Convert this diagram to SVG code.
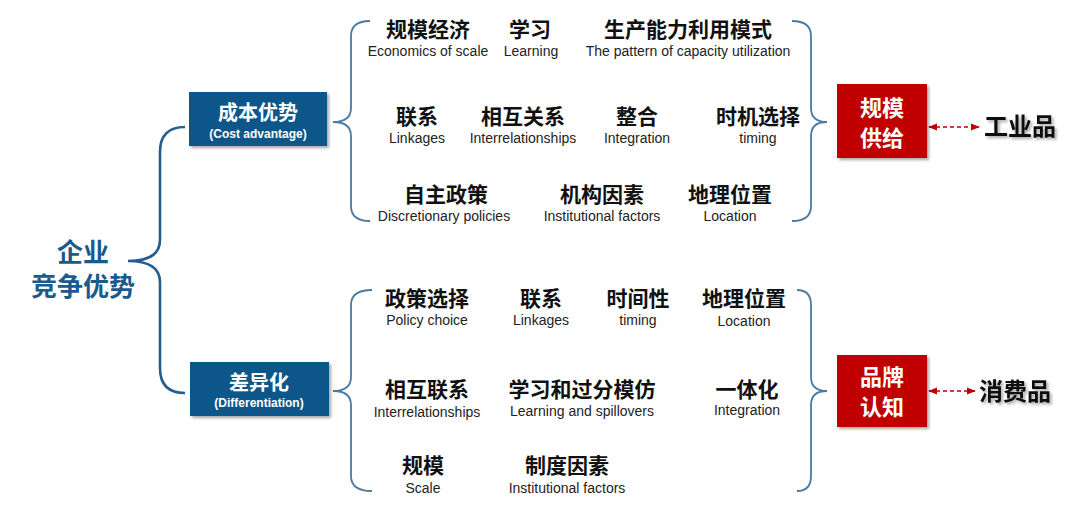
<svg xmlns="http://www.w3.org/2000/svg" width="1080" height="514" viewBox="0 0 1080 514">
<style>
.cn{font-family:"Noto Sans CJK SC","Liberation Sans",sans-serif;font-weight:700;font-size:21px;fill:#111;text-anchor:middle}
.en{font-family:"Liberation Sans",Arial,sans-serif;font-size:14px;fill:#222;text-anchor:middle}
.brace{fill:none;stroke:#4a79a3;stroke-width:1.8}
.bigbrace{fill:none;stroke:#245d8e;stroke-width:2.6}
.bluebox{fill:#0d5689}
.redbox{fill:#c00000}
.wt{font-family:"Noto Sans CJK SC","Liberation Sans",sans-serif;font-weight:700;fill:#fff;text-anchor:middle}
.lead{font-family:"Noto Sans CJK SC","Liberation Sans",sans-serif;font-weight:700;font-size:24px;fill:#111;text-anchor:middle}
.dash{stroke:#c00000;stroke-width:1.5;stroke-dasharray:4 3;fill:none}
</style>
<defs>
<filter id="sh" x="-20%" y="-20%" width="140%" height="140%">
<feDropShadow dx="2" dy="2" stdDeviation="1.5" flood-color="#000" flood-opacity="0.35"/>
</filter>
<marker id="ah" viewBox="0 0 10 10" refX="9" refY="5" markerWidth="6" markerHeight="6" orient="auto-start-reverse">
<path d="M0,1 L10,5 L0,9 z" fill="#c00000"/>
</marker>
</defs>

<g id="root">
<text font-family="Noto Sans CJK SC, sans-serif" font-weight="700" font-size="26" fill="#1a5a8c" text-anchor="middle"><tspan x="83" y="262">企业</tspan><tspan x="83" y="296">竞争优势</tspan></text>
</g>

<g id="connectors">
<path class="bigbrace" d="M185,127 Q160,127 160,152 L160,240 Q160,261 128,261 Q160,261 160,282 L160,368 Q160,393 185,393"/>
<path class="brace" d="M370,21 Q351,21 351,36 L351,108 Q351,122 333,122 Q351,122 351,136 L351,206 Q351,221 370,221"/>
<path class="brace" d="M792,21 Q811,21 811,36 L811,108 Q811,122 827,122 Q811,122 811,136 L811,206 Q811,221 792,221"/>
<path class="brace" d="M372,290 Q351,290 351,305 L351,377 Q351,391 333,391 Q351,391 351,405 L351,476 Q351,491 372,491"/>
<path class="brace" d="M797,290 Q811,290 811,305 L811,377 Q811,391 827,391 Q811,391 811,405 L811,476 Q811,491 797,491"/>
<line class="dash" x1="929" y1="127" x2="979" y2="127" marker-start="url(#ah)" marker-end="url(#ah)"/>
<line class="dash" x1="929" y1="391" x2="975" y2="391" marker-start="url(#ah)" marker-end="url(#ah)"/>
</g>

<g id="cost">
<rect class="bluebox" x="189" y="92" width="138" height="54" filter="url(#sh)"/>
<text class="wt" x="258" y="120" font-size="20">成本优势</text>
<text x="258" y="138" font-family="Liberation Sans, sans-serif" font-weight="700" font-size="12" fill="#fff" text-anchor="middle">(Cost advantage)</text>
</g>

<g id="diff">
<rect class="bluebox" x="190" y="362" width="139" height="54" filter="url(#sh)"/>
<text class="wt" x="259" y="390" font-size="20">差异化</text>
<text x="259" y="407" font-family="Liberation Sans, sans-serif" font-weight="700" font-size="12" fill="#fff" text-anchor="middle">(Differentiation)</text>
</g>

<g id="cost-items">
<g id="c1"><text class="cn" x="428" y="37">规模经济</text><text class="en" x="428" y="56">Economics of scale</text></g>
<g id="c2"><text class="cn" x="530" y="37">学习</text><text class="en" x="531" y="56">Learning</text></g>
<g id="c3"><text class="cn" x="688" y="37">生产能力利用模式</text><text class="en" x="688" y="56">The pattern of capacity utilization</text></g>
<g id="c4"><text class="cn" x="417" y="124">联系</text><text class="en" x="417" y="143">Linkages</text></g>
<g id="c5"><text class="cn" x="523" y="124">相互关系</text><text class="en" x="523" y="143">Interrelationships</text></g>
<g id="c6"><text class="cn" x="637" y="124">整合</text><text class="en" x="637" y="143">Integration</text></g>
<g id="c7"><text class="cn" x="758" y="124">时机选择</text><text class="en" x="758" y="143">timing</text></g>
<g id="c8"><text class="cn" x="446" y="202">自主政策</text><text class="en" x="444" y="221">Discretionary policies</text></g>
<g id="c9"><text class="cn" x="602" y="202">机构因素</text><text class="en" x="602" y="221">Institutional factors</text></g>
<g id="c10"><text class="cn" x="730" y="202">地理位置</text><text class="en" x="730" y="221">Location</text></g>
</g>

<g id="diff-items">
<g id="d1"><text class="cn" x="427" y="306">政策选择</text><text class="en" x="427" y="325">Policy choice</text></g>
<g id="d2"><text class="cn" x="541" y="306">联系</text><text class="en" x="541" y="325">Linkages</text></g>
<g id="d3"><text class="cn" x="638" y="306">时间性</text><text class="en" x="638" y="325">timing</text></g>
<g id="d4"><text class="cn" x="744" y="306">地理位置</text><text class="en" x="744" y="326">Location</text></g>
<g id="d5"><text class="cn" x="427" y="397">相互联系</text><text class="en" x="427" y="417">Interrelationships</text></g>
<g id="d6"><text class="cn" x="582" y="397">学习和过分模仿</text><text class="en" x="582" y="416">Learning and spillovers</text></g>
<g id="d7"><text class="cn" x="747" y="397">一体化</text><text class="en" x="747" y="415">Integration</text></g>
<g id="d8"><text class="cn" x="423" y="473">规模</text><text class="en" x="423" y="493">Scale</text></g>
<g id="d9"><text class="cn" x="567" y="473">制度因素</text><text class="en" x="567" y="493">Institutional factors</text></g>
</g>

<g id="scale-supply">
<rect class="redbox" x="837" y="84" width="90" height="74" filter="url(#sh)"/>
<text class="wt" font-size="22"><tspan x="882" y="115.5">规模</tspan><tspan x="882" y="145.5">供给</tspan></text>
</g>

<g id="brand">
<rect class="redbox" x="837" y="355" width="90" height="72" filter="url(#sh)"/>
<text class="wt" font-size="22"><tspan x="882" y="385">品牌</tspan><tspan x="882" y="415">认知</tspan></text>
</g>

<g id="industrial">
<text class="lead" x="1020" y="135" filter="url(#sh)">工业品</text>
</g>
<g id="consumer">
<text class="lead" x="1015" y="400" filter="url(#sh)">消费品</text>
</g>
</svg>
